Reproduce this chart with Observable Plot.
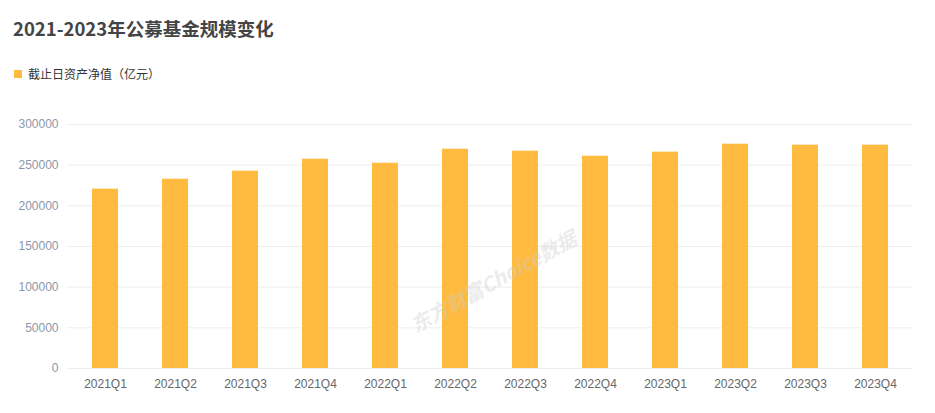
<!DOCTYPE html>
<html>
<head>
<meta charset="utf-8">
<script src="https://cdn.jsdelivr.net/npm/d3@7"></script>
<script src="https://cdn.jsdelivr.net/npm/@observablehq/plot@0.6"></script>
<style>
  html, body { margin: 0; padding: 0; background: #fff; }
  body { width: 935px; height: 413px; position: relative; overflow: hidden; font-family: "Noto Sans CJK SC", "Liberation Sans", sans-serif; }
  #title { position: absolute; left: 13px; top: 15px; font-size: 18.5px; font-weight: bold; color: #444; }
  #legend { position: absolute; left: 14px; top: 65px; font-size: 12px; color: #333; display: flex; align-items: center; }
  #legend .sw { width: 8px; height: 8px; background: #FFBB3F; margin-right: 6px; }
  #chart { position: absolute; left: 0; top: 100px; }
</style>
</head>
<body>
<div id="title"></div>
<div id="legend"><span class="sw"></span><span id="legendText"></span></div>
<div id="chart"></div>
<script>
const titleText = "2021-2023年公募基金规模变化";
const seriesName = "截止日资产净值（亿元）";
const quarters = ["2021Q1","2021Q2","2021Q3","2021Q4","2022Q1","2022Q2","2022Q3","2022Q4","2023Q1","2023Q2","2023Q3","2023Q4"];
const values = [220500, 232700, 242600, 257300, 252400, 269600, 267200, 261000, 266000, 275800, 274600, 274600];
const yTicks = [0, 50000, 100000, 150000, 200000, 250000, 300000];
const watermark = ["东方财富Choice数据"];

document.getElementById("title").textContent = titleText;
document.getElementById("legendText").textContent = seriesName;

const data = quarters.map((q, i) => ({q, v: values[i]}));

const chart = Plot.plot({
  width: 935,
  height: 313,
  marginLeft: 67,
  marginRight: 23,
  marginTop: 24,
  marginBottom: 45,
  style: { fontFamily: "'Liberation Sans', 'Noto Sans CJK SC', sans-serif", fontSize: "12px", background: "#fff" },
  x: { domain: quarters, paddingInner: 0.63, paddingOuter: 0.315, label: null },
  y: { domain: [0, 300000], label: null },
  marks: [
    Plot.ruleY(yTicks, { stroke: "#eeeeee", strokeWidth: 1 }),
    Plot.barY(data, { x: "q", y: "v", fill: "#FFBB3F" }),
    Plot.axisY({ ticks: yTicks, tickSize: 0, tickPadding: 9, tickFormat: d => String(d), fill: "#8b97aa", fontSize: 12 }),
    Plot.axisX({ tickSize: 0, tickPadding: 11, fill: "#666", fontSize: 12 }),
    Plot.text(watermark, { frameAnchor: "middle", dx: 4, dy: 36, rotate: -29, fontSize: 20, fontWeight: "bold", fontStyle: "italic", fill: "#cccccc", fillOpacity: 0.38, fontFamily: "'Noto Sans CJK SC', serif" })
  ]
});
document.getElementById("chart").appendChild(chart);
</script>
</body>
</html>
